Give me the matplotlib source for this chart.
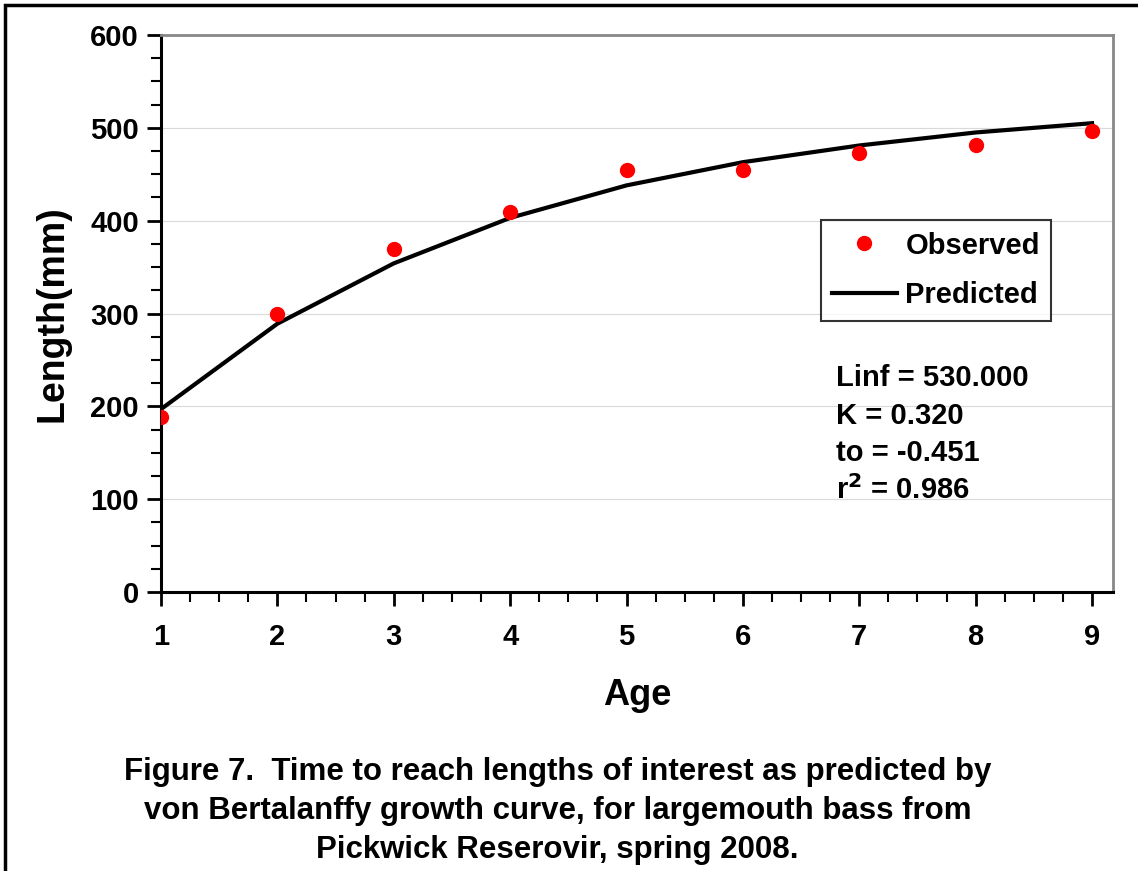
import matplotlib.pyplot as plt
from matplotlib.ticker import MultipleLocator
from matplotlib.patches import Rectangle

# Data
ages = [1, 2, 3, 4, 5, 6, 7, 8, 9]
observed = [188, 300, 370, 409, 455, 455, 473, 482, 497]
predicted = [197, 289, 354, 403, 438, 463, 481, 495, 505]
stats_lines = ['Linf = 530.000', 'K = 0.320', 'to = -0.451', r'r$^{2}$ = 0.986']
caption = ('Figure 7.  Time to reach lengths of interest as predicted by\n'
           'von Bertalanffy growth curve, for largemouth bass from\n'
           'Pickwick Reserovir, spring 2008.')

plt.rcParams['font.family'] = ['Liberation Sans', 'DejaVu Sans']
plt.rcParams['font.weight'] = 'bold'
plt.rcParams['mathtext.default'] = 'bf'

fig = plt.figure(figsize=(11.38, 8.71), dpi=100)
ax = fig.add_axes([161 / 1138, 1 - 592 / 871, (1113 - 161) / 1138, (592 - 35) / 871])

ax.plot(ages, predicted, color='black', lw=3, label='Predicted', zorder=3)
ax.plot(ages, observed, 'o', color='#ff0000', ms=10, label='Observed', zorder=4)

ax.set_xlim(1, 9.18)
ax.set_ylim(0, 600)
ax.xaxis.set_major_locator(MultipleLocator(1))
ax.xaxis.set_minor_locator(MultipleLocator(0.25))
ax.yaxis.set_major_locator(MultipleLocator(100))
ax.yaxis.set_minor_locator(MultipleLocator(25))
ax.grid(axis='y', which='major', color='#d9d9d9', lw=0.8)
ax.set_axisbelow(True)

ax.tick_params(axis='both', which='major', direction='out', length=10, width=2,
               labelsize=21, pad=6)
ax.tick_params(axis='x', which='major', pad=12)
ax.tick_params(axis='both', which='minor', direction='out', length=7, width=1.5)
for lab in ax.get_xticklabels() + ax.get_yticklabels():
    lab.set_fontweight('bold')

for s in ['left', 'bottom']:
    ax.spines[s].set_linewidth(2.2)
    ax.spines[s].set_color('black')
for s in ['top', 'right']:
    ax.spines[s].set_linewidth(2)
    ax.spines[s].set_color('#888888')

ax.set_xlabel('Age', fontsize=26, fontweight='bold', labelpad=20)
ax.set_ylabel('Length(mm)', fontsize=27, fontweight='bold', labelpad=14)

handles, labels = ax.get_legend_handles_labels()
leg = ax.legend(handles[::-1], labels[::-1], loc='upper left',
                bbox_to_anchor=(0.693, 0.668), borderaxespad=0, fontsize=21,
                frameon=True, fancybox=False, edgecolor='black',
                handlelength=2.2, borderpad=0.4, labelspacing=0.75,
                handletextpad=0.3)
leg.get_frame().set_linewidth(1.5)
for t in leg.get_texts():
    t.set_fontweight('bold')

for i, line in enumerate(stats_lines):
    fig.text(836 / 1138, 1 - (378 + i * 37.5) / 871, line, fontsize=21,
             fontweight='bold', va='center', ha='left')

fig.text(0.49, 1 - 811 / 871, caption, fontsize=22.5, fontweight='bold',
         ha='center', va='center', linespacing=1.4)

fig.patches.append(Rectangle((5 / 1138, -0.1), 1.2, 1 - 5 / 871 + 0.1,
                             transform=fig.transFigure, fill=False,
                             edgecolor='black', lw=2.5))

fig.savefig('out.png', dpi=100)
